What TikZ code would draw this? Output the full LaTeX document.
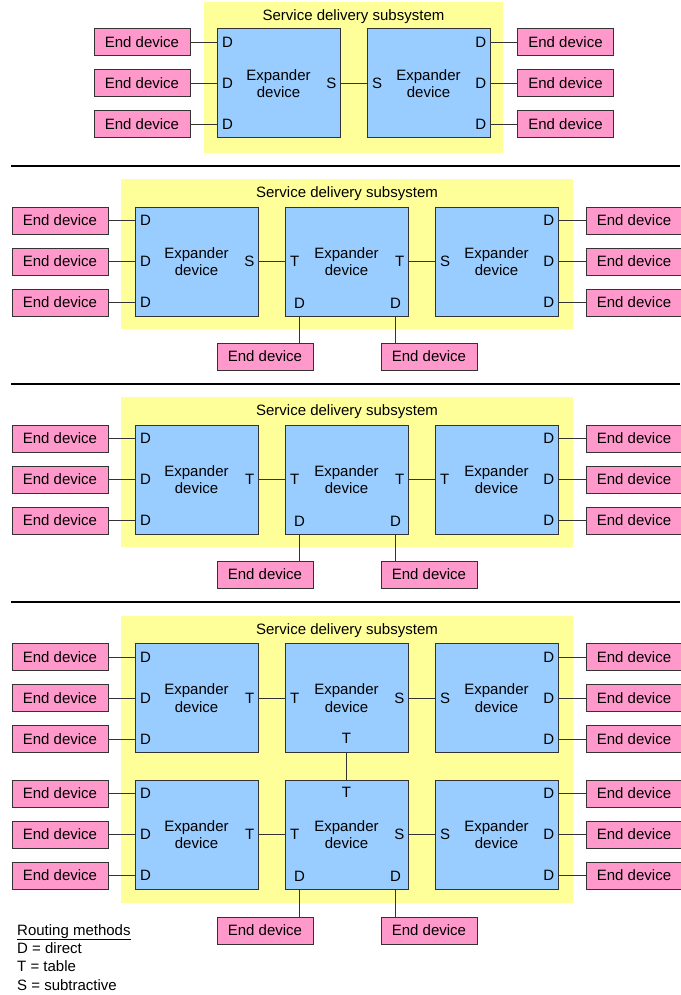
\documentclass[tikz,border=0pt]{standalone}
\usepackage{fontspec}
\setmainfont{Liberation Sans}
\usetikzlibrary{calc,positioning}
\definecolor{subyellow}{HTML}{FFFF99}
\definecolor{expblue}{HTML}{99CCFF}
\definecolor{endpink}{HTML}{FF99CC}
\definecolor{linegray}{HTML}{333333}
\tikzset{
    every node/.style={font=\fontsize{15}{17.5}\selectfont},
    sub node/.style={shape=rectangle, fill=subyellow, inner sep=0pt},
    exp node/.style={shape=rectangle, draw=linegray, line width=1pt,
        fill=expblue, align=center, inner sep=0pt,
        minimum width=123pt, minimum height=109pt},
    end node/.style={shape=rectangle, draw=linegray, line width=1pt,
        fill=endpink, inner sep=0pt,
        minimum width=96pt, minimum height=27pt},
    port/.style={inner sep=0pt},
    link/.style={draw=linegray, line width=1pt}
}
\begin{document}
\begin{tikzpicture}[x=1pt,y=-1pt]
    \useasboundingbox (0,0) rectangle (680,995);

    % yellow subsystems and their titles
    \node[sub node, minimum width=299pt, minimum height=151pt] (s1) at (353.5,77.5) {};
    \node[sub node, minimum width=452pt, minimum height=150pt] (s2) at (347,254) {};
    \node[sub node, minimum width=452pt, minimum height=150pt] (s3) at (347,472) {};
    \node[sub node, minimum width=452pt, minimum height=287pt] (s4) at (347,759.5) {};
    \foreach \s in {1,...,4}
        \node[anchor=base, yshift=-19pt] (t\s) at (s\s.north) {Service delivery subsystem};

    \draw[line width=2pt] (11,166) -- (680,166);
    \draw[line width=2pt] (11,384) -- (680,384);
    \draw[line width=2pt] (11,602) -- (680,602);

    % two expanders
    \node[exp node] (x11) at (278.5,83.5) {Expander\\device};
    \node[exp node] (x12) at (428.5,83.5) {Expander\\device};
    \draw[link] (x11) -- (x12);
    \node[port, anchor=east, xshift=-4pt] (q11) at (x11.east) {S};
    \node[port, anchor=west, xshift=5.5pt] (q12) at (x12.west) {S};
    \foreach \i/\y in {1/42.5,2/83.5,3/124.5} {
        \node[end node] (a1\i) at (142,\y) {End device};
        \node[end node] (b1\i) at (565.5,\y) {End device};
        \node[port, anchor=west, xshift=5.5pt] (pa1\i) at (x11.west |- a1\i) {D};
        \node[port, anchor=east, xshift=-4pt] (pb1\i) at (x12.east |- b1\i) {D};
        \draw[link] (a1\i) -- (x11.west |- a1\i);
        \draw[link] (b1\i) -- (x12.east |- b1\i);
    }

    % rows of three expanders
    \foreach \row/\y/\pone/\ptwo/\pthree/\pfour in
        {2/261.5/S/T/T/S, 3/479.5/T/T/T/T, 4/698/T/T/S/S, 5/834.5/T/T/S/S} {
        \node[exp node] (x\row1) at (196.5,\y) {Expander\\device};
        \node[exp node] (x\row2) at (346.5,\y) {Expander\\device};
        \node[exp node] (x\row3) at (496.5,\y) {Expander\\device};
        \draw[link] (x\row1) -- (x\row2);
        \draw[link] (x\row2) -- (x\row3);
        \node[port, anchor=east, xshift=-4pt] (q\row1) at (x\row1.east) {\pone};
        \node[port, anchor=west, xshift=5.5pt] (q\row2) at (x\row2.west) {\ptwo};
        \node[port, anchor=east, xshift=-4pt] (q\row3) at (x\row2.east) {\pthree};
        \node[port, anchor=west, xshift=5.5pt] (q\row4) at (x\row3.west) {\pfour};
        \foreach \i/\dy in {1/-41,2/0,3/41} {
            \node[end node] (a\row\i) at (60,\y+\dy) {End device};
            \node[end node] (b\row\i) at (634,\y+\dy) {End device};
            \node[port, anchor=west, xshift=5.5pt] (pa\row\i) at (x\row1.west |- a\row\i) {D};
            \node[port, anchor=east, xshift=-4pt] (pb\row\i) at (x\row3.east |- b\row\i) {D};
            \draw[link] (a\row\i) -- (x\row1.west |- a\row\i);
            \draw[link] (b\row\i) -- (x\row3.east |- b\row\i);
        }
    }

    % end devices below the middle expanders
    \foreach \row/\dy in {2/95, 3/95, 5/96} {
        \node[port, xshift=15pt, yshift=13.5pt] (u\row1) at (x\row2.south west) {D};
        \node[port, xshift=-13pt, yshift=13.5pt] (u\row2) at (x\row2.south east) {D};
        \node[end node] (c\row1) at ($(x\row2)+(-81.5,\dy)$) {End device};
        \node[end node] (c\row2) at ($(x\row2)+(82.5,\dy)$) {End device};
        \draw[link] (x\row2.south -| u\row1) -- (c\row1.north -| u\row1);
        \draw[link] (x\row2.south -| u\row2) -- (c\row2.north -| u\row2);
    }

    % table link between the two middle expanders
    \node[port, yshift=14.5pt] (v4) at (x42.south) {T};
    \node[port, yshift=-13pt] (v5) at (x52.north) {T};
    \draw[link] (x42) -- (x52);

    % key
    \foreach \k/\y/\txt in {1/935/\underline{Routing methods}, 2/953.3/D = direct,
        3/971.3/T = table, 4/990.5/S = subtractive}
        \node[anchor=base west, inner sep=0pt] (k\k) at (17,\y) {\txt};
\end{tikzpicture}
\end{document}
